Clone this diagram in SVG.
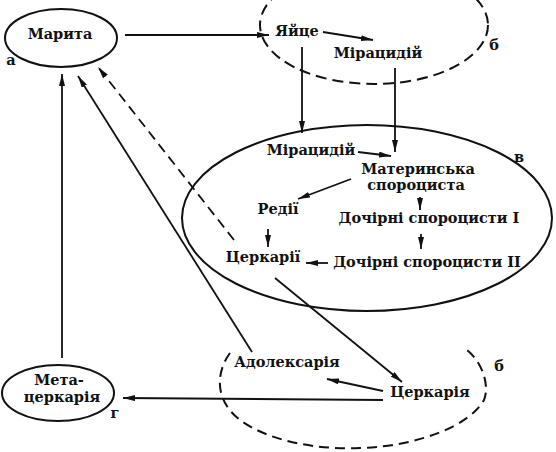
<svg xmlns="http://www.w3.org/2000/svg" width="556" height="452" viewBox="0 0 556 452">
<defs>
<marker id="ah" viewBox="0 0 12 6" refX="12" refY="3" markerWidth="12" markerHeight="6" markerUnits="userSpaceOnUse" orient="auto">
<path d="M0,0 L12,3 L0,6 Z" fill="#111"/>
</marker>
<style>
text{font-family:"DejaVu Serif","Liberation Serif",serif;font-weight:bold;font-size:14.5px;fill:#111;text-anchor:middle}
.lbl{font-size:14.5px}
.sh{fill:none;stroke:#111;stroke-width:2}
.dash{fill:none;stroke:#111;stroke-width:2;stroke-dasharray:11 6}
.dash2{fill:none;stroke:#111;stroke-width:2;stroke-dasharray:10 6}
.c{fill:none;stroke:#111;stroke-width:1.8;marker-end:url(#ah)}
.cd{fill:none;stroke:#111;stroke-width:1.8;stroke-dasharray:10 6;marker-end:url(#ah)}
</style>
</defs>
<rect width="556" height="452" fill="#fff"/>
<g id="zone-b-top"><ellipse class="dash" cx="374" cy="25" rx="114" ry="59"/><text class="lbl" x="494" y="50">б</text></g>
<g id="zone-v"><ellipse class="sh" cx="367" cy="218" rx="185" ry="93"/><text class="lbl" x="519" y="162">в</text></g>
<g id="zone-b-bottom"><path class="dash2" d="M230,353 C216,372 214,400 240,420 C270,442 320,450 360,448 C420,446 470,425 484,400 C490,385 482,362 467,350"/><text class="lbl" x="499" y="371">б</text></g>
<g id="marita"><ellipse class="sh" cx="61" cy="38" rx="56" ry="29"/><text x="60" y="39">Марита</text><text class="lbl" x="11" y="65">а</text></g>
<g id="metacercaria"><ellipse class="sh" cx="58" cy="393" rx="56" ry="28"/><text x="59" y="385">Мета-</text><text x="62" y="402">церкарія</text><text class="lbl" x="115" y="418">г</text></g>
<g id="egg"><text x="297" y="36">Яйце</text></g>
<g id="miracidium1"><text x="378" y="58">Мірацидій</text></g>
<g id="miracidium2"><text x="311" y="155">Мірацидій</text></g>
<g id="mother-sporocyst"><text x="418" y="174">Материнська</text><text x="416" y="190">спороциста</text></g>
<g id="rediae"><text x="278" y="214">Редії</text></g>
<g id="daughter1"><text x="429" y="223">Дочірні спороцисти I</text></g>
<g id="cercariae"><text x="263" y="262">Церкарії</text></g>
<g id="daughter2"><text x="427" y="267">Дочірні спороцисти II</text></g>
<g id="adolescaria"><text x="287" y="367">Адолексарія</text></g>
<g id="cercaria"><text x="430" y="397">Церкарія</text></g>
<g id="connectors">
<line class="c" x1="125" y1="35" x2="269" y2="35"/>
<line class="c" x1="323" y1="32" x2="373" y2="40"/>
<line class="c" x1="302" y1="47" x2="302" y2="133"/>
<line class="c" x1="395" y1="68" x2="395" y2="152"/>
<line class="c" x1="358" y1="152" x2="391" y2="156"/>
<line class="c" x1="351" y1="179" x2="298" y2="199"/>
<line class="c" x1="420" y1="197" x2="420" y2="210"/>
<line class="c" x1="421" y1="234" x2="421" y2="249"/>
<line class="c" x1="268" y1="229" x2="268" y2="247"/>
<line class="c" x1="328" y1="263" x2="306" y2="263"/>
<line class="c" x1="275" y1="278" x2="402" y2="382"/>
<line class="c" x1="383" y1="391" x2="327" y2="379"/>
<line class="c" x1="383" y1="400" x2="123" y2="398"/>
<line class="c" x1="252" y1="352" x2="78" y2="76"/>
<line class="cd" x1="234" y1="240" x2="98" y2="67"/>
<line class="c" x1="62" y1="358" x2="62" y2="74"/>
</g>
</svg>
